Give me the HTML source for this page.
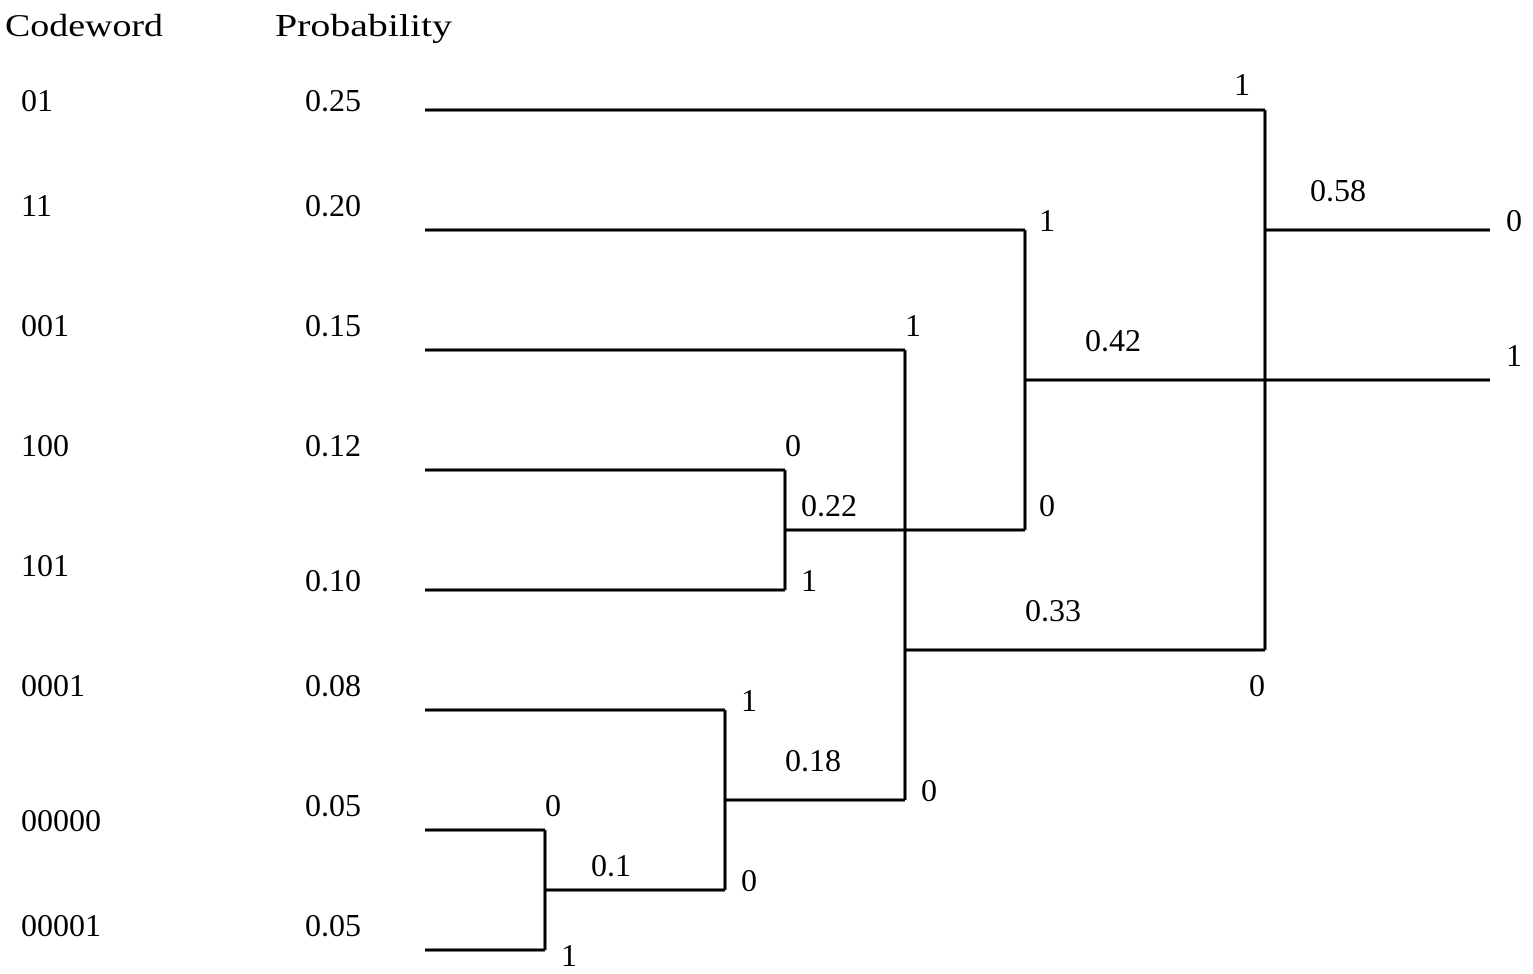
<!DOCTYPE html>
<html><head><meta charset="utf-8"><style>
html,body{margin:0;padding:0;background:#fff;}
svg{display:block;}
text{font-family:"Liberation Serif",serif;font-size:32px;fill:#000;}
</style></head><body>
<svg id="chart" width="1533" height="974" viewBox="0 0 1533 974">
<text x="5" y="36" textLength="158" lengthAdjust="spacingAndGlyphs">Codeword</text>
<text x="275" y="36" textLength="177" lengthAdjust="spacingAndGlyphs">Probability</text>
<g id="rows"></g>
<g id="tree" stroke="#000" stroke-width="3" fill="none"></g>
<g id="labels"></g>
</svg>
<script>
const codewords=["01","11","001","100","101","0001","00000","00001"];
const probabilities=["0.25","0.20","0.15","0.12","0.10","0.08","0.05","0.05"];
const codeY=[111,216,336,456,576,696,831,936];
const probY=[111,216,336,456,591,696,816,936];
const NS="http://www.w3.org/2000/svg";
const rows=document.getElementById('rows');
codewords.forEach((c,i)=>{
  const t=document.createElementNS(NS,'text');
  t.setAttribute('x',21);t.setAttribute('y',codeY[i]);t.textContent=c;
  
  
  rows.appendChild(t);
  const p=document.createElementNS(NS,'text');
  p.setAttribute('x',305);p.setAttribute('y',probY[i]);p.textContent=probabilities[i];
  
  
  rows.appendChild(p);
});
const segs=[
[425,110,1265,110],[1265,110,1265,650],
[425,230,1025,230],[1025,230,1025,530],
[425,350,905,350],[905,350,905,800],
[425,470,785,470],[785,470,785,590],[425,590,785,590],
[785,530,1025,530],[1025,380,1490,380],[1265,230,1490,230],
[905,650,1265,650],
[425,710,725,710],[725,710,725,890],[725,800,905,800],
[425,830,545,830],[545,830,545,950],[425,950,545,950],[545,890,725,890]
];
const tree=document.getElementById('tree');
segs.forEach((s,i)=>{
  const l=document.createElementNS(NS,'line');
  l.setAttribute('x1',s[0]);l.setAttribute('y1',s[1]);l.setAttribute('x2',s[2]);l.setAttribute('y2',s[3]);
  
  
  tree.appendChild(l);
});
const labs=[["1",1234,95],["0.58",1310,201],["0",1506,231],["1",1506,366],["1",1039,231],["0.42",1085,351],
["1",905,336],["0",785,456],["0.22",801,516],["0",1039,516],["1",801,591],["0.33",1025,621],["0",1249,696],
["1",741,711],["0.18",785,771],["0",921,801],["0",545,816],["0.1",591,876],["0",741,891],["1",561,966]];
const lg=document.getElementById('labels');
labs.forEach(a=>{
  const t=document.createElementNS(NS,'text');
  t.setAttribute('x',a[1]);t.setAttribute('y',a[2]);t.textContent=a[0];
  
  
  lg.appendChild(t);
});
</script>
</body></html>
